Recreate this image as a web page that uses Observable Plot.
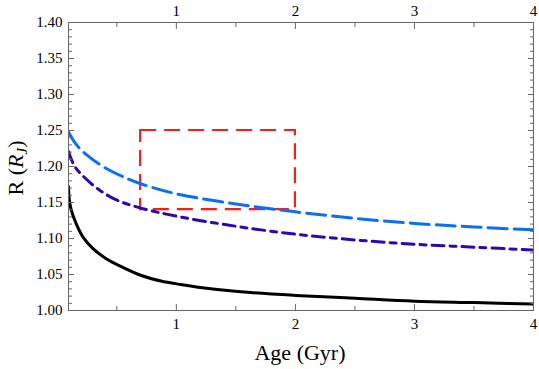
<!DOCTYPE html>
<html>
<head>
<meta charset="utf-8">
<script src="https://cdn.jsdelivr.net/npm/d3@7"></script>
<script src="https://cdn.jsdelivr.net/npm/@observablehq/plot@0.6"></script>
<style>
  html, body { margin: 0; padding: 0; background: #fff; }
  #chart svg { display: block; }
  #chart svg text, #chart svg tspan { font-family: "Liberation Serif", "Times New Roman", Times, "DejaVu Serif", serif !important; }
</style>
</head>
<body>
<div id="chart"></div>
<script>
// --- data ---
const ageBlue   = [0.094, 0.157, 0.255, 0.394, 0.59, 0.70, 1.0, 1.5, 2.0, 2.5, 3.0, 3.5, 4.0];
const rBlue     = [1.248, 1.231, 1.215, 1.199, 1.183, 1.176, 1.162, 1.148, 1.137, 1.128, 1.121, 1.116, 1.112];

const ageIndigo = [0.094, 0.143, 0.227, 0.34, 0.478, 0.674, 1.0, 1.5, 2.0, 2.5, 3.0, 3.5, 4.0];
const rIndigo   = [1.221, 1.201, 1.185, 1.169, 1.155, 1.1435, 1.131, 1.117, 1.106, 1.098, 1.092, 1.088, 1.084];

const ageBlack  = [0.094, 0.10, 0.118, 0.16, 0.216, 0.30, 0.411, 0.55, 0.70, 0.87, 1.04, 1.2, 1.54, 2.0, 2.5, 3.0, 3.5, 4.0];
const rBlack    = [1.172, 1.155, 1.139, 1.120, 1.102, 1.086, 1.072, 1.060, 1.049, 1.041, 1.036, 1.032, 1.026, 1.021, 1.017, 1.013, 1.011, 1.009];

const boxAge = [0.7, 2.0];
const boxR   = [1.14, 1.25];

const xMajor = [1, 2, 3, 4];
const xMinor = [0.5, 1.5, 2.5, 3.5];
const yMajor = [1.00, 1.05, 1.10, 1.15, 1.20, 1.25, 1.30, 1.35, 1.40];
const yMinor = d3.range(100, 141).map(v => v / 100).filter(v => Math.round(v * 100) % 5 !== 0);

const xDomain = [0.094, 4];
const yDomain = [1.0, 1.4];

// --- build tables ---
const toRows = (a, r) => a.map((x, i) => ({age: x, r: r[i]}));
const blue = toRows(ageBlue, rBlue);
const indigo = toRows(ageIndigo, rIndigo);
const black = toRows(ageBlack, rBlack);
const box = [{x1: boxAge[0], x2: boxAge[1], y1: boxR[0], y2: boxR[1]}];

const axisCol = "#666";
const font = "Liberation Serif, Times New Roman, serif";

const chart = Plot.plot({
  width: 539,
  height: 369,
  marginLeft: 68,
  marginRight: 6,
  marginTop: 22,
  marginBottom: 59,
  style: {fontSize: "15px", color: "black", background: "white"},
  x: {domain: xDomain, axis: null},
  y: {domain: yDomain, axis: null},
  marks: [
    Plot.rect(box, {x1: "x1", x2: "x2", y1: "y1", y2: "y2", fill: "none", stroke: "#ff1a1a", strokeWidth: 2.2, strokeDasharray: "16,8"}),
    Plot.line(black, {x: "age", y: "r", stroke: "black", strokeWidth: 3, curve: "catmull-rom", clip: true}),
    Plot.line(indigo, {x: "age", y: "r", stroke: "#2c08b4", strokeWidth: 3, strokeDasharray: "12,6,6,6", curve: "catmull-rom", clip: true}),
    Plot.line(blue, {x: "age", y: "r", stroke: "#0a6ff0", strokeWidth: 3, strokeDasharray: "19,7", curve: "catmull-rom", clip: true}),
    Plot.frame({stroke: axisCol, strokeWidth: 1}),
    // bottom axis
    Plot.axisX(xMajor, {anchor: "bottom", tickSize: -6, tickPadding: 14, stroke: axisCol, fill: "black", tickFormat: d => String(d), label: null}),
    Plot.axisX(xMinor, {anchor: "bottom", tickSize: -4, stroke: axisCol, tickFormat: () => "", label: null}),
    // top axis
    Plot.axisX(xMajor, {anchor: "top", tickSize: -6, tickPadding: 13, stroke: axisCol, fill: "black", tickFormat: d => String(d), label: null}),
    Plot.axisX(xMinor, {anchor: "top", tickSize: -4, stroke: axisCol, tickFormat: () => "", label: null}),
    // left axis
    Plot.axisY(yMajor, {anchor: "left", tickSize: -6, tickPadding: 12, stroke: axisCol, fill: "black", tickFormat: d3.format(".2f"), label: null}),
    Plot.axisY(yMinor, {anchor: "left", tickSize: -4, stroke: axisCol, tickFormat: () => "", label: null}),
    // right axis
    Plot.axisY(yMajor, {anchor: "right", tickSize: -6, stroke: axisCol, tickFormat: () => "", label: null}),
    Plot.axisY(yMinor, {anchor: "right", tickSize: -4, stroke: axisCol, tickFormat: () => "", label: null})
  ]
});

document.getElementById("chart").appendChild(chart);

// axis titles as real text
const svg = d3.select(chart);
svg.append("text")
  .attr("x", 300).attr("y", 360)
  .attr("text-anchor", "middle")
  .attr("font-size", 22).attr("fill", "black")
  .text("Age (Gyr)");

const yl = svg.append("text")
  .attr("transform", "translate(23,168) rotate(-90)")
  .attr("text-anchor", "middle")
  .attr("font-size", 22).attr("fill", "black");
yl.append("tspan").text("R (");
yl.append("tspan").attr("font-style", "italic").text("R");
yl.append("tspan").attr("font-style", "italic").attr("font-size", 15).attr("dy", 4).text("J");
yl.append("tspan").attr("dy", -4).text(")");
</script>
</body>
</html>
